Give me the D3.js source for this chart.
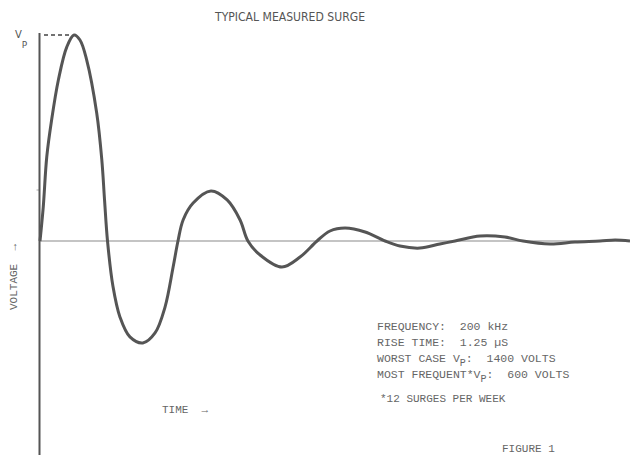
<!DOCTYPE html>
<html>
<head>
<meta charset="utf-8">
<script src="https://cdn.jsdelivr.net/npm/d3@7"></script>
<style>
  body { margin: 0; background: #fff; }
  svg { display: block; }
  text { white-space: pre; }
</style>
</head>
<body>
<script>
'use strict';

// time in microseconds, voltage in volts
const timeUs = [0, 0.12, 0.25, 0.43, 0.68, 0.99, 1.26, 1.48, 1.73, 2.1, 2.29, 2.39, 2.5,
  2.7, 2.96, 3.33, 3.81, 4.26, 4.63, 4.93, 5.11, 5.3, 5.67, 6.33, 6.93, 7.41, 7.7,
  8.15, 8.96, 9.63, 10.26, 10.74, 11.3, 12.04, 12.78, 13.33, 14.07, 14.81, 15.37,
  16.3, 17.22, 17.89, 18.89, 19.81, 20.74, 21.3, 21.85];
const volts = [0, 231, 571, 822, 1094, 1318, 1400, 1366, 1230, 870, 550, 280, 0,
  -306, -516, -652, -693, -625, -449, -177, 0, 143, 258, 340, 279, 143, 0,
  -95, -177, -109, 0, 68, 88, 61, 0, -34, -48, -20, 0,
  34, 27, 0, -20, -7, 0, 7, 0];
const peakVolts = 1400;
const tickVolts = [350];

const title = "TYPICAL MEASURED SURGE";
const notes = [
  ["FREQUENCY:  200 kHz"],
  ["RISE TIME:  1.25 \u00b5S"],
  ["WORST CASE V", "P", ":  1400 VOLTS"],
  ["MOST FREQUENT*V", "P", ":  600 VOLTS"]
];
const footnote = "*12 SURGES PER WEEK";

const m = { width: 630, height: 455 };
const mono = "'Liberation Mono', 'DejaVu Sans Mono', monospace";

let svg = d3.select('body')
  .append('svg')
  .attr('width', m.width)
  .attr('height', m.height);

let data = timeUs.map((t, i) => ({ t: t, v: volts[i] }));

let xScale = d3.scaleLinear()
  .domain([0, 21.85])
  .range([40, 630]);

let yScale = d3.scaleLinear()
  .domain([0, peakVolts])
  .range([241, 35]);

// zero line
svg.append('line')
  .attr('x1', 39).attr('x2', 630)
  .attr('y1', yScale(0)).attr('y2', yScale(0))
  .attr('stroke', '#8a8a8a')
  .attr('stroke-width', 1.2);

// vertical voltage axis, no labels, one faint tick
let yAxis = d3.axisLeft(yScale)
  .tickValues(tickVolts)
  .tickSize(3)
  .tickFormat('');
let ga = svg.append('g')
  .attr('transform', 'translate(39.5, 0)')
  .call(yAxis);
ga.select('.domain').remove();
ga.selectAll('.tick line').attr('stroke', '#aaa');

svg.append('line')
  .attr('x1', 39.5).attr('x2', 39.5)
  .attr('y1', 33).attr('y2', 455)
  .attr('stroke', '#555')
  .attr('stroke-width', 2);

// dashed marker to the peak
svg.append('line')
  .attr('x1', 44).attr('x2', xScale(1.26) - 4)
  .attr('y1', yScale(peakVolts)).attr('y2', yScale(peakVolts))
  .attr('stroke', '#444')
  .attr('stroke-width', 1.3)
  .attr('stroke-dasharray', '4,3');

// the surge trace
let line = d3.line()
  .x((d) => xScale(d.t))
  .y((d) => yScale(d.v))
  .curve(d3.curveCatmullRom.alpha(0.5));

svg.append('path')
  .datum(data)
  .attr('d', line)
  .attr('fill', 'none')
  .attr('stroke', '#555')
  .attr('stroke-width', 3)
  .attr('stroke-linejoin', 'round');

// title
svg.append('text')
  .attr('x', 215)
  .attr('y', 21)
  .attr('textLength', 150)
  .attr('lengthAdjust', 'spacingAndGlyphs')
  .style('font-family', "'DejaVu Sans', sans-serif")
  .style('font-size', '12px')
  .attr('fill', '#555')
  .text(title);

// Vp label
let vp = svg.append('text')
  .attr('x', 15)
  .attr('y', 38)
  .style('font-family', "'DejaVu Sans', sans-serif")
  .style('font-size', '10px')
  .attr('fill', '#555');
vp.append('tspan').text('V');
vp.append('tspan').attr('dx', 0).attr('dy', 10).style('font-size', '9px').text('P');

// axis labels
svg.append('text')
  .attr('transform', 'translate(17, 310)rotate(-90)')
  .style('font-family', mono)
  .style('font-size', '11px')
  .attr('fill', '#666')
  .text('VOLTAGE  \u2192');

svg.append('text')
  .attr('x', 162)
  .attr('y', 413)
  .style('font-family', mono)
  .style('font-size', '11px')
  .attr('fill', '#666')
  .text('TIME  \u2192');

// notes block
let noteText = svg.append('g')
  .style('font-family', mono)
  .style('font-size', '11.5px')
  .attr('fill', '#666');

notes.forEach((row, i) => {
  let t = noteText.append('text')
    .attr('x', 377)
    .attr('y', 330 + i * 16);
  t.append('tspan').text(row[0]);
  if (row.length > 1) {
    t.append('tspan').attr('dy', 4).style('font-size', '10px').text(row[1]);
    t.append('tspan').attr('dy', -4).text(row[2]);
  }
});

noteText.append('text')
  .attr('x', 380)
  .attr('y', 402)
  .style('font-size', '11px')
  .text(footnote);

noteText.append('text')
  .attr('x', 502)
  .attr('y', 452)
  .style('font-size', '11px')
  .text('FIGURE 1');
</script>
</body>
</html>
